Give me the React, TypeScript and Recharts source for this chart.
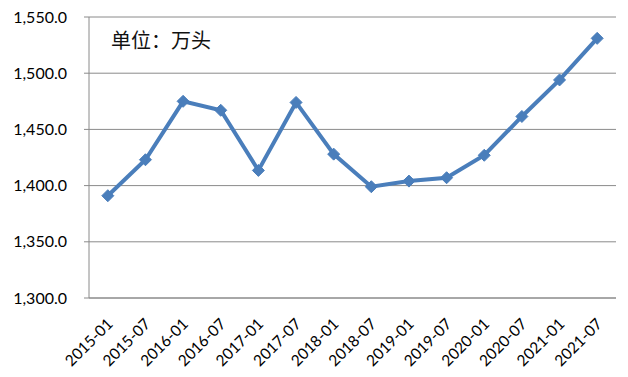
import React from 'react'
import { LineChart, Line, XAxis, YAxis, CartesianGrid } from 'recharts'

const months = [
  '2015-01', '2015-07', '2016-01', '2016-07', '2017-01', '2017-07', '2018-01',
  '2018-07', '2019-01', '2019-07', '2020-01', '2020-07', '2021-01', '2021-07',
]
const stock = [
  1391, 1423, 1475, 1467, 1413.5, 1474, 1428,
  1399, 1404, 1407, 1427, 1461.5, 1494, 1531,
]
const yTicks = [1300, 1350, 1400, 1450, 1500, 1550]
const unitLabel = '单位：万头'

const data = months.map((m, i) => ({ month: m, value: stock[i], idx: i + 0.5 }))
const boundaryTicks = months.map((_, i) => i).concat([months.length])

const BLUE = '#4a7ebb'
const GRID = '#8a8a8a'

function Diamond(props: any) {
  const { cx, cy } = props
  if (cx == null || cy == null) return null
  const r = 6
  return (
    <path
      d={`M${cx},${cy - r} L${cx + r},${cy} L${cx},${cy + r} L${cx - r},${cy} Z`}
      fill={BLUE}
      stroke={BLUE}
      strokeWidth={1}
    />
  )
}

function MonthTick(props: any) {
  const { x, y, payload } = props
  const px = x + 6
  const py = y + 18
  return (
    <text
      x={px}
      y={py}
      transform={`rotate(-45, ${px}, ${py})`}
      textAnchor="end"
      fontSize={15.5}
      fontFamily="Lato, sans-serif"
      fill="#000"
    >
      {months[Math.floor(payload.value)]}
    </text>
  )
}

export default function App() {
  return (
    <div style={{ position: 'fixed', left: 0, top: 0, width: 628, height: 377, background: '#fff' }}>
      <LineChart
        width={628}
        height={377}
        data={data}
        margin={{ top: 17, right: 12, bottom: 0, left: 0 }}
      >
        <CartesianGrid vertical={false} stroke={GRID} strokeWidth={1} />
        <XAxis
          dataKey="idx"
          type="number"
          domain={[0, months.length]}
          ticks={boundaryTicks}
          tick={false}
          tickSize={5}
          stroke={GRID}
          height={1}
          xAxisId="bounds"
        />
        <XAxis
          dataKey="idx"
          type="number"
          domain={[0, months.length]}
          ticks={data.map((d) => d.idx)}
          tick={<MonthTick />}
          tickLine={false}
          axisLine={false}
          interval={0}
          height={78}
          xAxisId="main"
        />
        <YAxis
          domain={[1300, 1550]}
          ticks={yTicks}
          interval={0}
          tickFormatter={(v: number) =>
            v.toLocaleString('en-US', { minimumFractionDigits: 1, maximumFractionDigits: 1 })
          }
          tick={{ fontSize: 16, fontFamily: 'Lato, sans-serif', fill: '#000' }}
          tickSize={5}
          tickMargin={17}
          stroke={GRID}
          width={89}
        />
        <Line
          xAxisId="main"
          type="linear"
          dataKey="value"
          stroke={BLUE}
          strokeWidth={4}
          dot={<Diamond />}
          activeDot={false}
          isAnimationActive={false}
        />
      </LineChart>
      <div
        style={{
          position: 'absolute',
          left: 111,
          top: 27,
          fontSize: 20,
          fontFamily: '"Noto Sans CJK SC", sans-serif',
          color: '#111',
          lineHeight: '26px',
        }}
      >
        {unitLabel}
      </div>
    </div>
  )
}
